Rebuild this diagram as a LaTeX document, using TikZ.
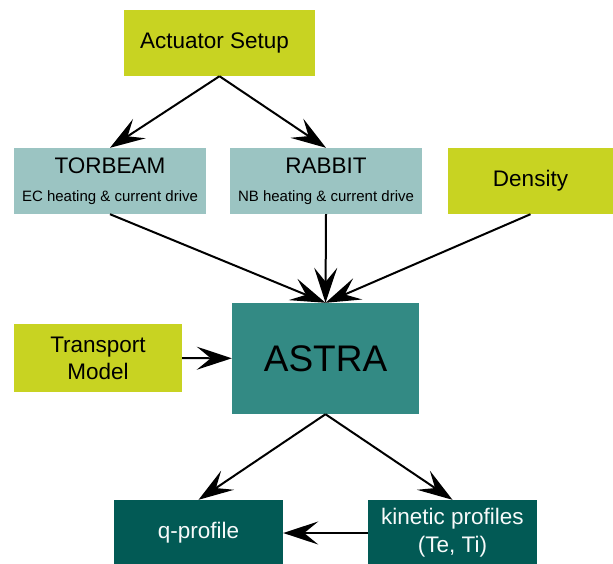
\documentclass[tikz,border=0pt]{standalone}
\usepackage{fontspec}
\setmainfont{Liberation Sans}
\usetikzlibrary{arrows.meta}

\definecolor{inputgreen}{HTML}{C8D322}
\definecolor{codeteal}{HTML}{9BC4C2}
\definecolor{astrateal}{HTML}{338A84}
\definecolor{outteal}{HTML}{025A55}

\tikzset{
  inbox/.style={fill=inputgreen, minimum width=#1, minimum height=66pt, inner sep=0pt,
    align=center, font=\fontsize{22.5}{27}\selectfont},
  inbox/.default=191pt,
  codebox/.style={fill=codeteal, minimum width=192pt, minimum height=66pt, inner sep=0pt, align=center},
  outbox/.style={fill=outteal, text=white!92!codeteal, minimum width=169pt, minimum height=66pt,
    inner sep=0pt, align=center, font=\fontsize{22.5}{28}\selectfont},
  link/.style={-{Stealth[length=35pt, width=23pt, inset=14pt]}, line width=2pt},
}

\begin{document}
\begin{tikzpicture}[x=1pt, y=-1pt]
  \useasboundingbox (0,0) rectangle (613,563);

  % inputs
  \node[inbox] (act) at (219.5,43) {Actuator Setup\hspace*{10pt}};
  \node[codebox] (torbeam) at (110,181)
    {\fontsize{22.5}{24}\selectfont TORBEAM\\[16pt]\fontsize{15}{18}\selectfont EC heating \& current drive};
  \node[codebox] (rabbit) at (326,181)
    {\fontsize{22.5}{24}\selectfont RABBIT\\[16pt]\fontsize{15}{18}\selectfont NB heating \& current drive};
  \node[inbox=165pt] (density) at (530.5,181) {Density};
  \node[inbox=168pt, minimum height=68pt] (transport) at (98,358) {Transport\\Model};

  % transport code
  \node[fill=astrateal, minimum width=187pt, minimum height=111pt, inner sep=0pt,
    font=\fontsize{37}{40}\selectfont] (astra) at (325.5,358.5) {ASTRA};

  % outputs
  \node[outbox] (qprof) at (198.5,533) {q-profile};
  \node[outbox] (kinetic) at (452.5,533) {kinetic profiles\\(Te, Ti)};

  \draw[link] (act.south) -- (torbeam.north);
  \draw[link] (act.south) -- (rabbit.north);

  \draw[link] (torbeam.south) -- (astra.north);
  \draw[link] (rabbit.south) -- (astra.north);
  \draw[link] (density.south) -- (astra.north);
  \draw[link] (transport) -- (astra);

  \draw[link] (astra.south) -- (qprof.north);
  \draw[link] (astra.south) -- (kinetic.north);
  \draw[link] (kinetic) -- (qprof);
\end{tikzpicture}
\end{document}
